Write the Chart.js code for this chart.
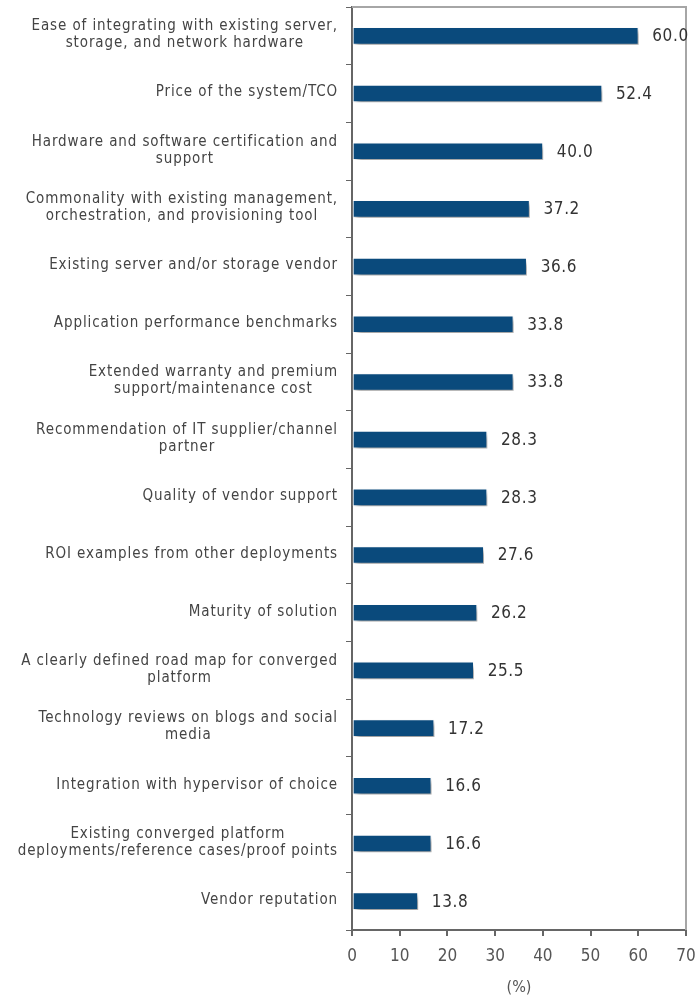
<!DOCTYPE html>
<html>
<head>
<meta charset="utf-8">
<script src="https://cdn.jsdelivr.net/npm/chart.js@4"></script>
<style>
  html, body { margin: 0; padding: 0; background: #fff; }
  #wrap { width: 698px; height: 997px; }
</style>
</head>
<body>
<div id="wrap"><canvas id="chart" width="698" height="997"></canvas></div>
<script>
const categories = [
    ['Ease of integrating with existing server,', 'storage, and network hardware'],
    ['Price of the system/TCO'],
    ['Hardware and software certification and', 'support'],
    ['Commonality with existing management,', 'orchestration, and provisioning tool'],
    ['Existing server and/or storage vendor'],
    ['Application performance benchmarks'],
    ['Extended warranty and premium', 'support/maintenance cost'],
    ['Recommendation of IT supplier/channel', 'partner'],
    ['Quality of vendor support'],
    ['ROI examples from other deployments'],
    ['Maturity of solution'],
    ['A clearly defined road map for converged', 'platform'],
    ['Technology reviews on blogs and social', 'media'],
    ['Integration with hypervisor of choice'],
    ['Existing converged platform', 'deployments/reference cases/proof points'],
    ['Vendor reputation']
];
const values = [60.0, 52.4, 40.0, 37.2, 36.6, 33.8, 33.8, 28.3, 28.3, 27.6, 26.2, 25.5, 17.2, 16.6, 16.6, 13.8];
const xTicks = [0, 10, 20, 30, 40, 50, 60, 70];

const FONT = '"DejaVu Sans Condensed", "DejaVu Sans", sans-serif';

// bar shadow
const shadowPlugin = {
    id: 'shadow',
    beforeDatasetDraw(chart) {
        const ctx = chart.ctx;
        ctx.save();
        ctx.shadowColor = 'rgba(0,0,0,0.4)';
        ctx.shadowOffsetX = 3;
        ctx.shadowOffsetY = 4;
        ctx.shadowBlur = 5;
    },
    afterDatasetDraw(chart) {
        chart.ctx.restore();
    }
};

// light frame on top and right of the plot
const framePlugin = {
    id: 'frame',
    beforeDatasetsDraw(chart) {
        const { ctx, chartArea: a } = chart;
        ctx.save();
        ctx.strokeStyle = '#a6a6a6';
        ctx.lineWidth = 2;
        ctx.beginPath();
        ctx.moveTo(a.left, a.top);
        ctx.lineTo(a.right, a.top);
        ctx.lineTo(a.right, a.bottom);
        ctx.stroke();
        ctx.restore();
    }
};

// value labels at bar ends
const valuePlugin = {
    id: 'values',
    afterDatasetsDraw(chart) {
        const ctx = chart.ctx;
        const meta = chart.getDatasetMeta(0);
        ctx.save();
        ctx.font = '17px ' + FONT;
        ctx.letterSpacing = '0.6px';
        ctx.fillStyle = '#333333';
        ctx.textAlign = 'left';
        ctx.textBaseline = 'middle';
        meta.data.forEach((bar, i) => {
            ctx.fillText(values[i].toFixed(1), bar.x + 14, bar.y + 1);
        });
        ctx.restore();
    }
};

// category labels: block right aligned, lines centered inside the block
const labelPlugin = {
    id: 'catLabels',
    afterDraw(chart) {
        const ctx = chart.ctx;
        const y = chart.scales.y;
        const right = y.right - 14;
        const lineH = 17;
        ctx.save();
        ctx.font = '15px ' + FONT;
        ctx.letterSpacing = '0.9px';
        ctx.fillStyle = '#444444';
        ctx.textAlign = 'center';
        ctx.textBaseline = 'middle';
        categories.forEach((lines, i) => {
            const cy = y.getPixelForTick(i) - 1;
            const w = Math.max(...lines.map(l => ctx.measureText(l).width));
            const cx = right - w / 2;
            const top = cy - (lines.length - 1) * lineH / 2;
            lines.forEach((l, k) => ctx.fillText(l, cx, top + k * lineH));
        });
        ctx.restore();
    }
};

new Chart(document.getElementById('chart').getContext('2d'), {
    type: 'bar',
    data: {
        labels: categories,
        datasets: [{
            data: values,
            backgroundColor: '#0a4a7c',
            borderColor: '#ffffff',
            borderWidth: 1,
            borderSkipped: false,
            barThickness: 17
        }]
    },
    options: {
        indexAxis: 'y',
        responsive: false,
        animation: false,
        layout: { padding: { top: 7, right: 12, left: 0, bottom: 0 } },
        plugins: {
            legend: { display: false },
            tooltip: { enabled: false }
        },
        scales: {
            x: {
                min: 0,
                max: 70,
                afterBuildTicks(scale) {
                    scale.ticks = xTicks.map(v => ({ value: v }));
                },
                afterFit(scale) {
                    scale.height = 67;
                    scale.paddingLeft = 0;
                    scale.paddingRight = 0;
                },
                border: { color: '#666666', width: 2 },
                grid: {
                    drawOnChartArea: false,
                    tickColor: '#666666',
                    lineWidth: 2,
                    tickLength: 6
                },
                ticks: {
                    color: '#555555',
                    font: { family: FONT, size: 17 },
                    padding: 10
                },
                title: {
                    display: true,
                    text: '(%)',
                    color: '#555555',
                    font: { family: FONT, size: 16 },
                    padding: { top: 2, bottom: 0 }
                }
            },
            y: {
                afterFit(scale) { scale.width = 352; },
                border: { color: '#666666', width: 2 },
                grid: {
                    offset: true,
                    drawOnChartArea: false,
                    color: '#666666',
                    tickLength: 6
                },
                ticks: { display: false }
            }
        }
    },
    plugins: [shadowPlugin, framePlugin, valuePlugin, labelPlugin]
});
</script>
</body>
</html>
